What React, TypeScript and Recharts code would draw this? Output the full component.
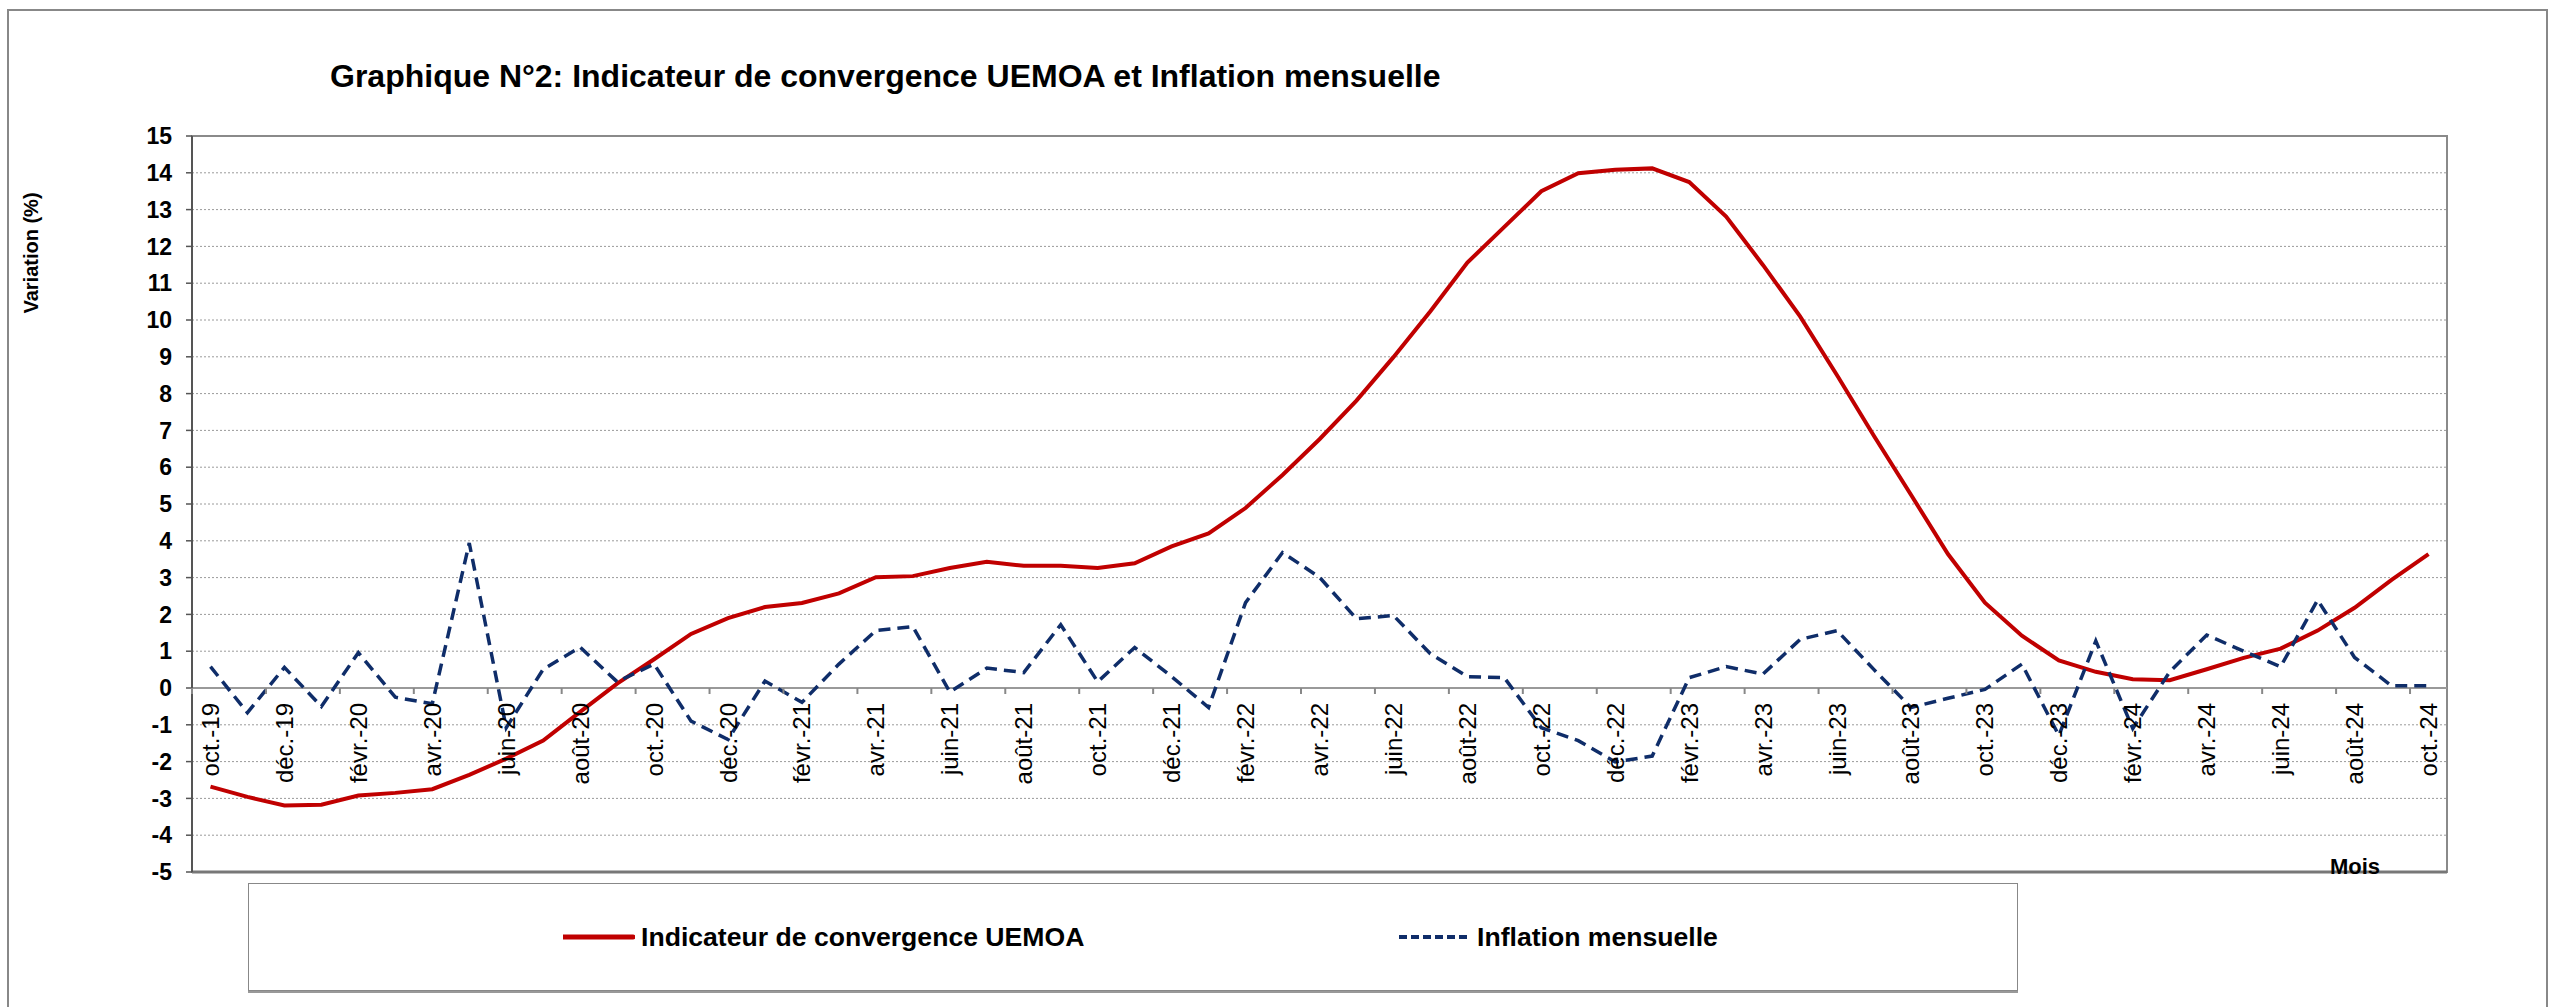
import {
  LineChart,
  Line,
  XAxis,
  YAxis,
  CartesianGrid,
  ReferenceLine,
  ReferenceDot,
  ReferenceArea,
} from "recharts";

const FONT = '"Liberation Sans", Arial, sans-serif';

const months = [
  "oct.-19", "nov.-19", "déc.-19",
  "janv.-20", "févr.-20", "mars-20", "avr.-20", "mai-20", "juin-20", "juil.-20", "août-20", "sept.-20", "oct.-20", "nov.-20", "déc.-20",
  "janv.-21", "févr.-21", "mars-21", "avr.-21", "mai-21", "juin-21", "juil.-21", "août-21", "sept.-21", "oct.-21", "nov.-21", "déc.-21",
  "janv.-22", "févr.-22", "mars-22", "avr.-22", "mai-22", "juin-22", "juil.-22", "août-22", "sept.-22", "oct.-22", "nov.-22", "déc.-22",
  "janv.-23", "févr.-23", "mars-23", "avr.-23", "mai-23", "juin-23", "juil.-23", "août-23", "sept.-23", "oct.-23", "nov.-23", "déc.-23",
  "janv.-24", "févr.-24", "mars-24", "avr.-24", "mai-24", "juin-24", "juil.-24", "août-24", "sept.-24", "oct.-24",
];

// Indicateur de convergence UEMOA (%)
const indicateur = [
  -2.68, -2.96, -3.19,
  -3.17, -2.92, -2.85, -2.75, -2.36, -1.92, -1.43, -0.65, 0.12, 0.78, 1.47, 1.9,
  2.2, 2.31, 2.57, 3.01, 3.04, 3.26, 3.43, 3.32, 3.32, 3.26, 3.39, 3.85,
  4.2, 4.89, 5.79, 6.76, 7.81, 8.99, 10.24, 11.56, 12.53, 13.5, 13.99, 14.08,
  14.12, 13.75, 12.81, 11.49, 10.1, 8.5, 6.85, 5.25, 3.64, 2.32, 1.42, 0.75,
  0.44, 0.24, 0.21, 0.51, 0.82, 1.07, 1.56, 2.18, 2.94, 3.64,
];

// Inflation mensuelle (%)
const inflation = [
  0.58, -0.67, 0.56,
  -0.5, 0.96, -0.25, -0.43, 3.94, -1.08, 0.51, 1.11, 0.17, 0.65, -0.9, -1.4,
  0.19, -0.39, 0.65, 1.56, 1.67, -0.11, 0.54, 0.42, 1.72, 0.17, 1.1, 0.31,
  -0.53, 2.32, 3.68, 3.01, 1.88, 1.97, 0.93, 0.31, 0.28, -1.08, -1.43, -2.01,
  -1.85, 0.28, 0.58, 0.38, 1.32, 1.56, 0.5, -0.53, -0.28, -0.04, 0.65, -1.29,
  1.28, -1.1, 0.44, 1.44, 1.0, 0.58, 2.39, 0.83, 0.06, 0.06,
];

const yTicks = [-5, -4, -3, -2, -1, 0, 1, 2, 3, 4, 5, 6, 7, 8, 9, 10, 11, 12, 13, 14, 15];

const series = [
  { key: "indicateur", name: "Indicateur de convergence UEMOA", color: "#C00000", dash: undefined },
  { key: "inflation", name: "Inflation mensuelle", color: "#0F2D69", dash: "12 7" },
];

const data = months.map((month, i) => ({
  i,
  month,
  indicateur: indicateur[i],
  inflation: inflation[i],
}));

// every second month gets a label, as in the original
const labelled = data.filter((d) => d.i % 2 === 0);

function MonthLabel({ cx, cy, text }: any) {
  const y = cy + 15;
  return (
    <text
      x={cx}
      y={y}
      transform={`rotate(-90, ${cx}, ${y})`}
      textAnchor="end"
      dominantBaseline="central"
      fontFamily={FONT}
      fontSize={24}
      fill="#000"
    >
      {text}
    </text>
  );
}

function TickMark({ cx, cy }: any) {
  return <line x1={cx} x2={cx} y1={cy} y2={cy + 6} stroke="#888" strokeWidth={2} />;
}

function LegendBox() {
  return (
    <div
      style={{
        position: "absolute",
        left: 248,
        top: 883,
        width: 1768,
        height: 106,
        border: "1px solid #888",
        boxShadow: "0 2px 0 #999",
        background: "#fff",
        fontFamily: FONT,
        fontWeight: "bold",
        fontSize: 26.6,
      }}
    >
      {series.map((s, k) => (
        <div
          key={s.key}
          style={{
            position: "absolute",
            left: k === 0 ? 314 : 1150,
            top: 0,
            height: 106,
            display: "flex",
            alignItems: "center",
          }}
        >
          <svg width={72} height={10} style={{ marginRight: 6 }}>
            <line
              x1={0}
              x2={70}
              y1={5}
              y2={5}
              stroke={s.color}
              strokeWidth={s.dash ? 4 : 5}
              strokeDasharray={s.dash ? "8 4" : undefined}
              strokeLinecap={s.dash ? "butt" : "round"}
            />
          </svg>
          <span>{s.name}</span>
        </div>
      ))}
    </div>
  );
}

export default function App() {
  return (
    <div
      style={{
        position: "absolute",
        left: 0,
        top: 0,
        width: 2555,
        height: 1007,
        background: "#fff",
        overflow: "hidden",
        fontFamily: FONT,
      }}
    >
      <div
        style={{
          position: "absolute",
          left: 7,
          top: 9,
          width: 2537,
          height: 1040,
          border: "2px solid #888",
        }}
      />
      <div
        style={{
          position: "absolute",
          left: 330,
          top: 58,
          fontSize: 32,
          fontWeight: "bold",
          whiteSpace: "nowrap",
        }}
      >
        Graphique N°2: Indicateur de convergence UEMOA et Inflation mensuelle
      </div>
      <div
        style={{
          position: "absolute",
          left: 31,
          top: 253,
          transform: "translate(-50%, -50%) rotate(-90deg)",
          fontSize: 20,
          fontWeight: "bold",
          whiteSpace: "nowrap",
        }}
      >
        Variation (%)
      </div>

      <div style={{ position: "absolute", left: 0, top: 0 }}>
        <LineChart
          width={2555}
          height={1007}
          data={data}
          margin={{ top: 136, right: 108, bottom: 135, left: 132 }}
        >
          <CartesianGrid horizontal vertical={false} stroke="#9a9a9a" strokeDasharray="2 2" />
          <XAxis
            type="number"
            dataKey="i"
            domain={[-0.5, 60.5]}
            allowDataOverflow
            hide
          />
          <YAxis
            width={60}
            domain={[-5, 15]}
            ticks={yTicks}
            interval={0}
            tickSize={6}
            tickMargin={14}
            axisLine={{ stroke: "#555", strokeWidth: 2 }}
            tickLine={{ stroke: "#555", strokeWidth: 1.5 }}
            tick={{ fill: "#000", fontSize: 23, fontWeight: "bold", fontFamily: FONT }}
          />
          <ReferenceArea
            x1={-0.5}
            x2={60.5}
            y1={-5}
            y2={15}
            fill="none"
            stroke="#8a8a8a"
            strokeWidth={2}
            fillOpacity={0}
          />
          <ReferenceLine y={-5} stroke="#777" strokeWidth={3} />
          <ReferenceLine y={0} stroke="#999" strokeWidth={2} />
          {labelled.map((d) => (
            <ReferenceDot
              key={`t${d.i}`}
              x={d.i - 0.5}
              y={0}
              r={0}
              shape={(p: any) => <TickMark {...p} />}
            />
          ))}
          {labelled.map((d) => (
            <ReferenceDot
              key={`l${d.i}`}
              x={d.i}
              y={0}
              r={0}
              shape={(p: any) => <MonthLabel {...p} text={d.month} />}
            />
          ))}
          {series.map((s) => (
            <Line
              key={s.key}
              type="linear"
              dataKey={s.key}
              name={s.name}
              stroke={s.color}
              strokeWidth={s.dash ? 3.5 : 4}
              strokeDasharray={s.dash}
              dot={false}
              activeDot={false}
              isAnimationActive={false}
            />
          ))}
        </LineChart>
      </div>

      <div
        style={{
          position: "absolute",
          left: 2355,
          top: 867,
          transform: "translate(-50%, -50%)",
          fontSize: 22,
          fontWeight: "bold",
        }}
      >
        Mois
      </div>
      <LegendBox />
    </div>
  );
}
